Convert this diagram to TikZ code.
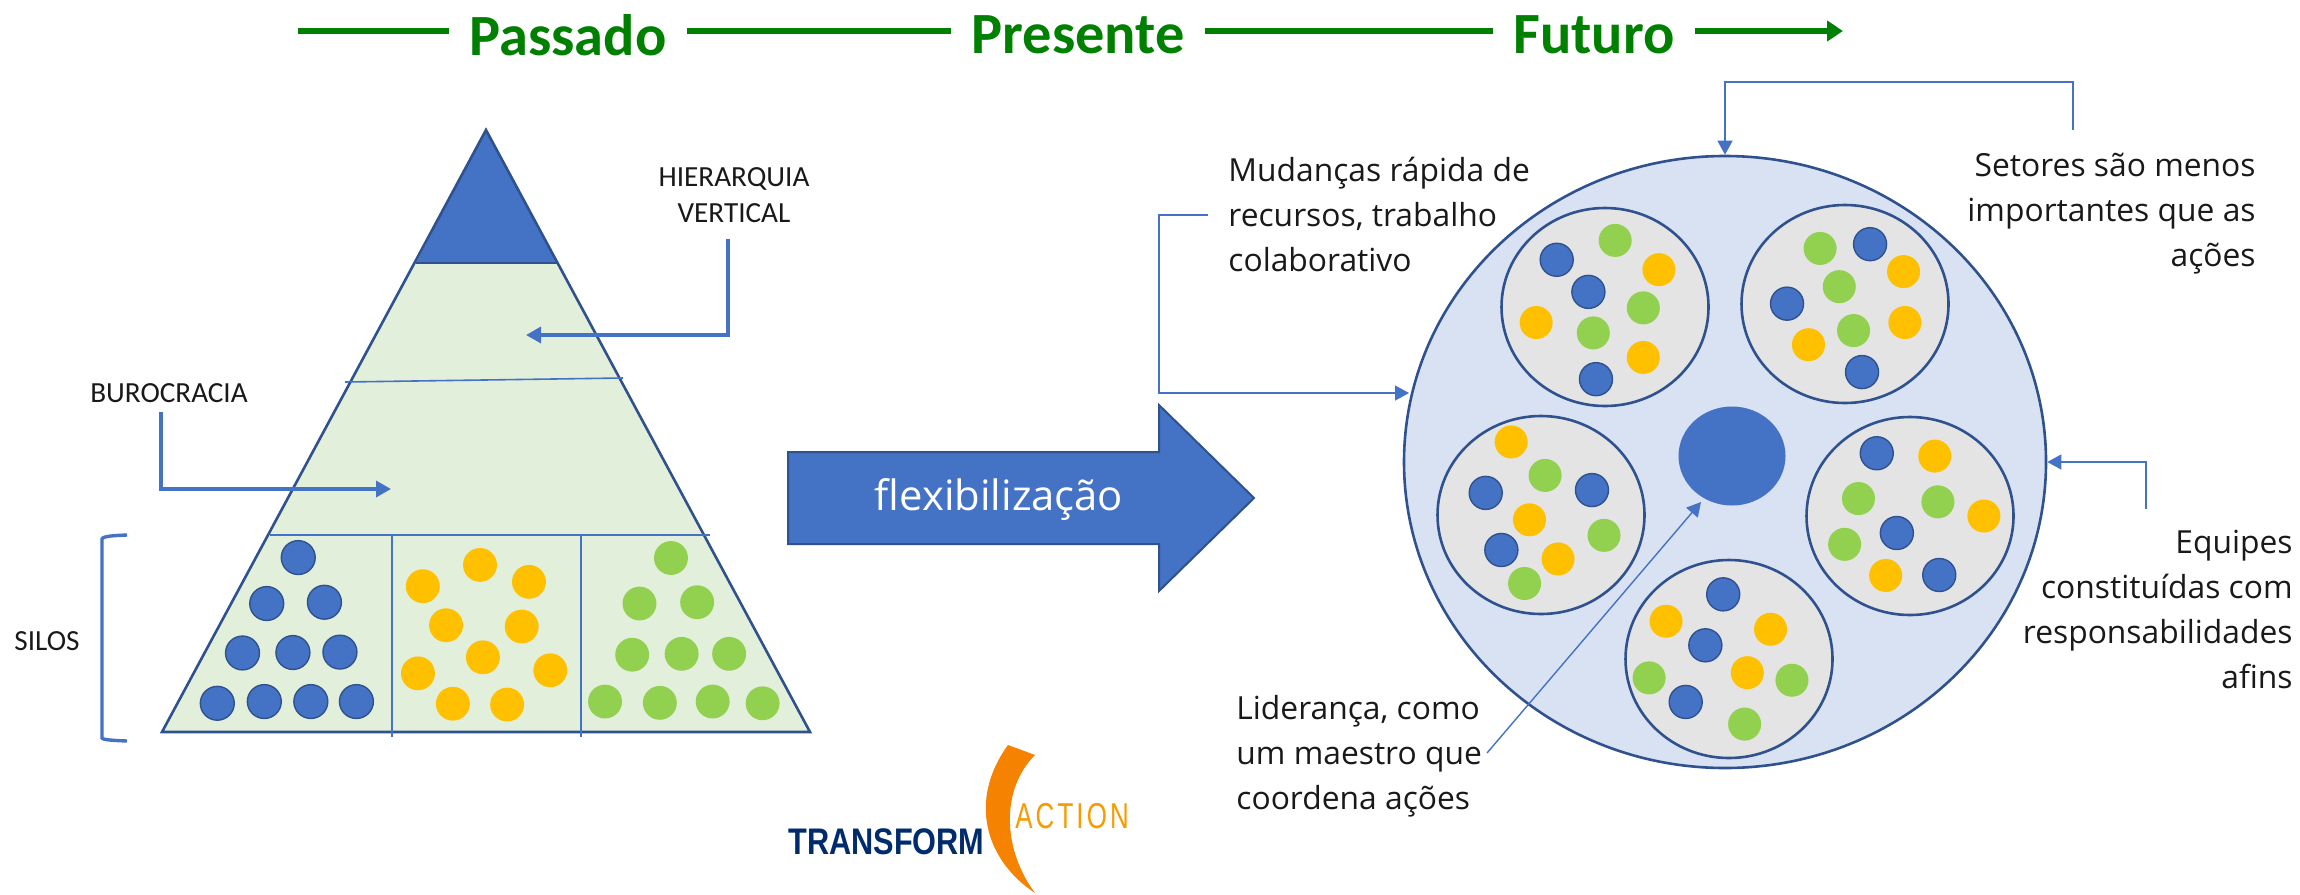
\documentclass[tikz,border=0pt]{standalone}
\usepackage{fontspec}
\setmainfont{Open Sans}
\newfontfamily\calfont{Carlito}
\newfontfamily\logofont{Liberation Sans}
\newfontfamily\actionfont[LetterSpace=12]{Liberation Sans}
\usetikzlibrary{arrows.meta,shapes.geometric}
\definecolor{ublue}{HTML}{4472C4}
\definecolor{uborder}{HTML}{2F528F}
\definecolor{ulgreen}{HTML}{E2EFDA}
\definecolor{uorange}{HTML}{FFC000}
\definecolor{ugreen}{HTML}{92D050}
\definecolor{ulblue}{HTML}{D9E2F3}
\definecolor{ugrey}{HTML}{E4E4E4}
\definecolor{utitle}{HTML}{008000}
\definecolor{unavy}{HTML}{002B6C}
\definecolor{uswoosh}{HTML}{F58200}
\tikzset{
  x=0.5pt,y=-0.5pt,
  titletxt/.style={font=\calfont\bfseries\fontsize{29.2}{29}\selectfont,text=utitle,inner sep=0pt},
  timeline/.style={draw=utitle,line width=2.6pt},
  labeltxt/.style={font=\fontsize{15.9}{22.5}\selectfont,inner sep=0pt,text=black!90},
  smalltxt/.style={font=\calfont\fontsize{14.6}{18}\selectfont,inner sep=0pt,text=black!90},
  conn/.style={draw=ublue,line width=1.7pt,-{Triangle[length=7.5pt,width=8pt]}},
  thinconn/.style={draw=ublue,line width=0.7pt,-{Triangle[length=7pt,width=7.5pt]}},
  divider/.style={draw=ublue,line width=0.8pt},
  team/.style={ellipse,draw=uborder,line width=1.3pt,fill=ugrey,minimum width=103.5pt,minimum height=99pt,inner sep=0pt},
  dotb/.style={fill=ublue,draw=uborder,line width=0.7pt},
  doto/.style={fill=uorange},
  dotg/.style={fill=ugreen}
}
\newcommand{\pdots}[2]{\foreach \px/\py in {#2} {\path[#1] (\px,\py) ellipse [x radius=35,y radius=39];}}
\newcommand{\tdots}[2]{\foreach \px/\py in {#2} {\path[#1] (\px,\py) ellipse [x radius=37,y radius=35];}}
\begin{document}
\begin{tikzpicture}
\useasboundingbox (0,0) rectangle (2300,894);
% timeline
\node[titletxt] (passado) at (568,35) {Passado};
\node[titletxt] (presente) at (1078,35) {Presente};
\node[titletxt] (futuro) at (1594,35) {Futuro};
\coordinate (tlstart) at (298,31);
\coordinate (tlend) at (1843,31);
\draw[timeline] (tlstart) -- (449,31);
\draw[timeline] (687,31) -- (951,31);
\draw[timeline] (1205,31) -- (1493,31);
\draw[timeline,-{Triangle[length=8pt,width=10pt]}] (1695,31) -- (tlend);
% pyramid
\fill[ulgreen] (486,130) -- (810,732) -- (162,732) -- cycle;
\fill[ublue] (486,130) -- (557,263) -- (416,263) -- cycle;
\draw[uborder,line width=1.3pt,line join=miter] (486,130) -- (810,732) -- (162,732) -- cycle;
\draw[uborder,line width=1pt] (416,263) -- (557,263);
\draw[divider] (345,382) -- (623,378);
\draw[divider] (270,535) -- (710,535);
\draw[divider] (392,535) -- (392,737);
\draw[divider] (581,535) -- (581,737);
\begin{scope}[shift={(100,100)},xscale=0.4847,yscale=0.4337]
\pdots{dotb}{409/1055,344/1161,463/1158,294/1275,398/1274,495/1273,242/1391,339/1387,435/1387,529/1387}
\pdots{doto}{784/1072,666/1121,885/1111,714/1211,870/1214,790/1285,656/1322,929/1315,728/1392,840/1394}
\pdots{dotg}{1178/1056,1113/1161,1232/1158,1098/1279,1200/1277,1298/1277,1042/1387,1155/1390,1264/1387,1367/1391}
\end{scope}
% pyramid labels
\node[smalltxt,align=center] (hier) at (734,195) {HIERARQUIA\\VERTICAL};
\coordinate (hiertip) at (526,335);
\draw[conn] (728,239) |- (hiertip);
\node[smalltxt] (buro) at (169,393) {BUROCRACIA};
\coordinate (burotip) at (391,489);
\draw[conn] (161,412) |- (burotip);
\node[smalltxt] (silos) at (47,641) {SILOS};
\draw[draw=ublue,line width=1.7pt] (127,535) .. controls (115,535.5) and (103,536) .. (102,539) -- (102,738) .. controls (103,740) and (115,740.5) .. (127,741);
% big arrow
\fill[ublue] (788,452) -- (1159,452) -- (1159,405) -- (1254,498) -- (1159,591) -- (1159,544) -- (788,544) -- cycle;
\draw[uborder,line width=1pt] (788,452) -- (1159,452) -- (1159,405) -- (1254,498) -- (1159,591) -- (1159,544) -- (788,544) -- cycle;
\node[font=\fontsize{20.9}{24}\selectfont,text=white,inner sep=0pt] (flex) at (999,500) {flexibilização};
% big circle
\node[ellipse,draw=uborder,line width=1.3pt,fill=ulblue,minimum width=321pt,minimum height=306pt,inner sep=0pt] (bigc) at (1725,462) {};
\node[team] (ta) at (1605,307) {};
\node[team] (tb) at (1845,304) {};
\node[team] (tc) at (1541,515) {};
\node[team] (td) at (1910,516) {};
\node[team] (te) at (1729,659) {};
\node[ellipse,fill=ublue,minimum width=53.5pt,minimum height=49.5pt,inner sep=0pt] (lead) at (1732,456) {};
\begin{scope}[shift={(1400,130)},xscale=0.4464,yscale=0.4719]
\tdots{dotb}{351/275,422/343,439/528,1053/242,867/368,1035/513,192/769,430/763,227/890,1068/685,1113/854,1208/943,724/984,684/1092,640/1212}
\tdots{dotg}{482/234,545/377,433/430,941/251,984/332,1016/425,325/732,457/859,279/961,1027/781,1205/788,996/878,558/1161,878/1166,772/1259}
\tdots{doto}{580/296,305/408,545/482,1128/300,1131/408,915/455,249/661,290/826,354/909,1198/691,1308/818,1088/944,596/1041,830/1058,778/1150}
\end{scope}
% right labels
\node[labeltxt,align=left,anchor=north west] (mud) at (1228,157) {Mudanças rápida de\\recursos, trabalho\\colaborativo};
\node[labeltxt,align=right,anchor=north east] (setr) at (2256,153) {Setores são menos\\importantes que as\\ações};
\node[labeltxt,align=right,anchor=north east] (equ) at (2293,530) {Equipes\\constituídas com\\responsabilidades\\afins};
\node[labeltxt,align=left,anchor=north west] (lid) at (1236,695) {Liderança, como\\um maestro que\\coordena ações};
\coordinate (setstart) at (2073,130);
\coordinate (mudstart) at (1208,215);
\coordinate (mudtip) at (1409,393);
\coordinate (equstart) at (2146,509);
\coordinate (lidstart) at (1487,753);
\coordinate (lidtip) at (1701,502);
\coordinate (setcorner) at (2073,82);
\draw[thinconn] (setstart) -- (setcorner) -| (bigc.north);
\draw[thinconn] (mudstart) -- (1159,215) |- (mudtip);
\draw[thinconn] (equstart) |- (bigc.east);
\draw[thinconn] (lidstart) -- (lidtip);
% logo
\node[font=\logofont\bfseries\fontsize{18.5}{18}\selectfont,text=unavy,inner sep=0pt,anchor=base west,xscale=0.83] (transform) at (788,854) {TRANSFORM};
\fill[uswoosh] (1008,745) -- (1035,755) .. controls (1000,790) and (1003,850) .. (1035,893) .. controls (985,860) and (968,800) .. (1008,745) -- cycle;
\node[font=\actionfont\fontsize{18}{18}\selectfont,text=uswoosh!80!yellow,inner sep=0pt,anchor=base west,xscale=0.72] (action) at (1015,828) {ACTION};
\end{tikzpicture}
\end{document}
